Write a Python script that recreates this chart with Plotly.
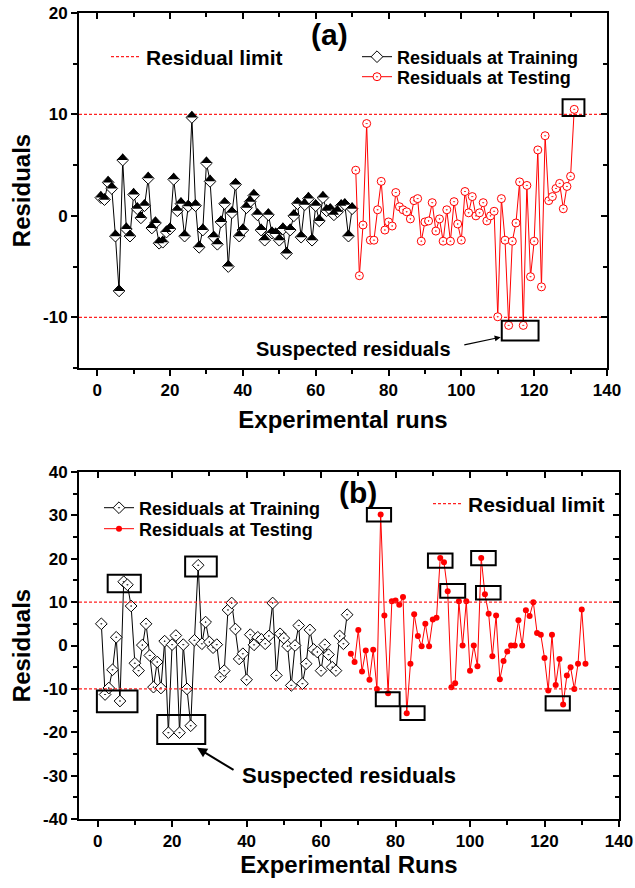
import plotly.graph_objects as go

FONT = "Liberation Sans, Arial, sans-serif"
NARROW = "Liberation Sans Narrow, Liberation Sans, Arial, sans-serif"

# ---------------- data ----------------
RUNS_A_TRAIN = list(range(1, 71))
RES_A_TRAIN = [1.8, 1.6, 3.3, 2.7, -2.0, -7.4, 5.5, -1.3, -2.0, 2.1,
               0.7, -0.2, 1.0, 3.7, -1.2, -0.7, -2.7, -2.6, -1.6, -1.3,
               3.6, 0.5, 1.2, -2.0, 0.95, 9.7, 1.0, -3.1, -1.4, 5.2,
               3.4, -2.1, -2.8, -0.6, 1.2, -5.0, 0.3, 3.1, -2.0, -1.4,
               0.8, 1.4, 2.0, 0.1, -1.4, -2.4, 0.1, -1.7, -1.8, -2.4,
               -1.3, -3.7, -1.4, 0.0, 1.2, -2.1, 1.1, 1.7, -2.4, 1.0,
               -0.5, 1.8, 0.5, 0.6, 0.1, 0.4, 1.0, 1.1, -2.0, 0.7]

RUNS_A_TEST = list(range(71, 132))
RES_A_TEST = [4.5, -5.9, -0.9, 9.1, -2.4, -2.4, 0.6, 3.4, -1.4, -0.6,
              -1.0, 2.3, 0.9, 0.6, 0.4, -0.3, 1.5, 1.7, -2.5, -0.6,
              -0.5, 1.3, -1.5, -0.3, -2.5, 0.6, -2.5, 1.4, -0.8, -2.4,
              2.4, 0.3, 1.9, 0.0, 0.3, 1.3, -0.5, 0.0, 0.45, -9.95,
              1.7, -2.4, -10.8, -2.5, -0.7, 3.35, -10.8, 3.0, -6.0, -2.5,
              6.5, -7.0, 7.9, 1.5, 1.9, 2.7, 3.2, 0.7, 2.9, 3.9,
              10.5]

RUNS_B_TRAIN = list(range(1, 68))
RES_B_TRAIN = [5.0, -11.3, -9.8, -5.6, 1.9, -12.8, 14.7, 14.0, 9.1, -4.1,
               -5.8, 0.1, 5.0, -2.3, -9.6, -3.8, -9.8, 1.0, -20.1, 0.2,
               2.3, -20.1, 0.2, -10.0, -18.5, 1.2, 18.5, 0.4, 5.4, 0.8,
               -0.5, 0.2, -7.2, -5.8, 8.2, 9.8, 3.8, -3.1, -1.9, -7.9,
               2.5, 0.15, 1.9, 1.4, 0.4, 2.2, 9.8, -6.9, 2.7, 1.7,
               -0.15, -9.2, 0.0, 4.6, -8.8, -4.2, 3.6, -0.9, -1.5, -5.8,
               0.2, -2.1, -5.0, -5.8, 2.2, 0.4, 7.1]

RUNS_B_TEST = list(range(68, 132))
RES_B_TEST = [-1.9, -3.8, 3.6, -6.0, -1.15, -7.9, -1.0, -10.0, 30.2, 6.9,
              -11.0, 10.2, 10.4, 9.4, 11.2, -15.6, -4.2, 7.2, 2.2, -0.15,
              5.0, -0.15, 6.0, 6.4, 20.2, 19.2, 12.5, -9.6, -8.7, 10.2,
              0.0, 10.2, -5.8, 0.0, -4.8, 20.2, 11.8, 7.3, -2.5, 6.9,
              -7.8, -3.6, -1.4, 0.0, 0.0, 5.8, 0.0, 8.1, 6.8, 10.0,
              2.9, 2.5, -2.9, -10.4, 2.5, -9.1, -3.1, -13.6, -6.9, -5.0,
              -10.0, -4.2, 8.3, -4.2]

LIMIT = 10
X_RANGE = [-5, 140]
A_Y_RANGE = [-15, 20]
B_Y_RANGE = [-40, 40]
X_TICKS = [0, 20, 40, 60, 80, 100, 120, 140]
X_MINOR = [10, 30, 50, 70, 90, 110, 130]
A_Y_TICKS = [-10, 0, 10, 20]
A_Y_MINOR = [-15, -5, 5, 15]
B_Y_TICKS = [-40, -30, -20, -10, 0, 10, 20, 30, 40]
B_Y_MINOR = [-35, -25, -15, -5, 5, 15, 25, 35]

# suspected-residual boxes: (x0, x1, y0, y1)
A_BOXES = [(127.8, 133.8, 9.85, 11.5), (111.1, 121.2, -12.3, -10.35)]
B_BOXES = [(2.7, 11.6, 12.3, 16.3), (23.5, 32.0, 15.9, 20.5),
           (-0.2, 10.7, -15.4, -10.4), (16.0, 28.9, -22.7, -16.0),
           (72.3, 78.8, 28.6, 31.7), (88.7, 95.3, 17.9, 21.2),
           (92.0, 98.7, 11.0, 14.2), (100.3, 106.9, 18.5, 21.8),
           (101.6, 108.2, 10.6, 13.7), (74.7, 81.1, -14.0, -10.8),
           (81.3, 87.8, -17.2, -14.0), (120.3, 126.8, -15.0, -11.7)]

# ---------------- figure ----------------
W, H = 635, 888
ML, MR, MT, MB = 79, 16, 13, 69
PW, PH = W - ML - MR, H - MT - MB


def px_x(p):
    return (p - ML) / PW


def px_y(p):
    return (H - MB - p) / PH


fig = go.Figure()

limit_x = [X_RANGE[0], X_RANGE[1], None, X_RANGE[0], X_RANGE[1]]
limit_y = [LIMIT, LIMIT, None, -LIMIT, -LIMIT]
dash_line = dict(color="#ff2020", width=1.2, dash="3px,2px")

# ----- panel (a)
fig.add_trace(go.Scatter(x=limit_x, y=limit_y, mode="lines", line=dash_line,
                         name="Residual limit", legend="legend",
                         xaxis="x", yaxis="y", hoverinfo="skip"))
fig.add_trace(go.Scatter(x=RUNS_A_TRAIN, y=RES_A_TRAIN, mode="lines+markers",
                         name="Residuals at Training", legend="legend2",
                         line=dict(color="black", width=1),
                         marker=dict(symbol="diamond", size=9, color="white",
                                     line=dict(color="black", width=1)),
                         xaxis="x", yaxis="y"))
# black upper half of the training diamonds
fig.add_trace(go.Scatter(x=RUNS_A_TRAIN, y=RES_A_TRAIN, mode="markers",
                         showlegend=False, hoverinfo="skip",
                         marker=dict(symbol="triangle-down", size=9, angle=180,
                                     standoff=2.25, color="black",
                                     line=dict(width=0)),
                         xaxis="x", yaxis="y"))
fig.add_trace(go.Scatter(x=RUNS_A_TEST, y=RES_A_TEST, mode="lines+markers",
                         name="Residuals at Testing", legend="legend3",
                         line=dict(color="#ff0000", width=1),
                         marker=dict(symbol="circle-dot", size=8, color="white",
                                     line=dict(color="#ff0000", width=1)),
                         xaxis="x", yaxis="y"))

# ----- panel (b)
fig.add_trace(go.Scatter(x=RUNS_B_TRAIN, y=RES_B_TRAIN, mode="lines+markers",
                         name="Residuals at Training", legend="legend4",
                         line=dict(color="black", width=1),
                         marker=dict(symbol="diamond-dot", size=9, color="white",
                                     line=dict(color="black", width=1)),
                         xaxis="x2", yaxis="y2"))
fig.add_trace(go.Scatter(x=RUNS_B_TEST, y=RES_B_TEST, mode="lines+markers",
                         name="Residuals at Testing", legend="legend5",
                         line=dict(color="#ff0000", width=1),
                         marker=dict(symbol="circle", size=6, color="#ff0000"),
                         xaxis="x2", yaxis="y2"))
fig.add_trace(go.Scatter(x=limit_x, y=limit_y, mode="lines", line=dash_line,
                         name="Residual limit", legend="legend6",
                         xaxis="x2", yaxis="y2", hoverinfo="skip"))

# dummy traces for the mirrored (inside) top/right tick axes
fig.add_trace(go.Scatter(x=[None], y=[None], xaxis="x3", yaxis="y3",
                         showlegend=False, hoverinfo="skip"))
fig.add_trace(go.Scatter(x=[None], y=[None], xaxis="x4", yaxis="y4",
                         showlegend=False, hoverinfo="skip"))

tick_font = dict(family=NARROW, size=17, color="black", weight="bold")
title_font = dict(family=FONT, size=24, color="black", weight="bold")


def main_axis(rng, tv, minor, domain, anchor, title=None, standoff=None):
    d = dict(range=rng, domain=domain, anchor=anchor, showline=True,
             linecolor="black", linewidth=2, mirror=True, ticks="outside",
             ticklen=6, tickwidth=1.5, tickcolor="black", tickvals=tv,
             ticktext=[str(v) for v in tv], tickfont=tick_font,
             ticklabeloverflow="allow",
             showgrid=False, zeroline=False,
             minor=dict(tickvals=minor, ticks="outside", ticklen=4,
                        tickwidth=1.5, tickcolor="black", showgrid=False))
    if title:
        d["title"] = dict(text=title, font=title_font, standoff=standoff)
    return d


def mirror_axis(rng, tv, minor, overlay, side, anchor):
    return dict(range=rng, overlaying=overlay, side=side, anchor=anchor,
                showline=False, ticks="inside", ticklen=6, tickwidth=1.5,
                tickcolor="black", tickvals=tv, showticklabels=False,
                showgrid=False, zeroline=False,
                minor=dict(tickvals=minor, ticks="inside", ticklen=4,
                           tickwidth=1.5, tickcolor="black", showgrid=False))


A_XDOM = [0, (607 - ML) / PW]
A_YDOM = [px_y(368), 1]
B_XDOM = [0, 1]
B_YDOM = [0, px_y(472)]

leg_font_small = dict(family=FONT, size=18, color="black", weight="bold")
leg_font_big = dict(family=FONT, size=21, color="black", weight="bold")


def leg(x_px, y_px, font):
    return dict(x=px_x(x_px), y=px_y(y_px), xanchor="left", yanchor="middle",
                bgcolor="rgba(0,0,0,0)", borderwidth=0, font=font,
                itemclick=False, itemdoubleclick=False)


annotations = [
    dict(x=63.9, y=17.9, xref="x", yref="y", text="(a)", showarrow=False,
         font=dict(family=FONT, size=30, color="black", weight="bold")),
    dict(x=70.0, y=35.3, xref="x2", yref="y2", text="(b)", showarrow=False,
         font=dict(family=FONT, size=30, color="black", weight="bold")),
    dict(x=70.3, y=-13.15, xref="x", yref="y", text="Suspected residuals",
         showarrow=False,
         font=dict(family=FONT, size=20, color="black", weight="bold")),
    dict(x=110.8, y=-11.96, xref="x", yref="y", ax=100.4, ay=-12.75,
         axref="x", ayref="y", text="", showarrow=True, arrowhead=2,
         arrowsize=1, arrowwidth=1.2, arrowcolor="black"),
    dict(x=67.5, y=-30.0, xref="x2", yref="y2", text="Suspected residuals",
         showarrow=False,
         font=dict(family=FONT, size=22, color="black", weight="bold")),
    dict(x=26.7, y=-23.6, xref="x2", yref="y2", ax=36.9, ay=-28.9,
         axref="x2", ayref="y2", text="", showarrow=True, arrowhead=2,
         arrowsize=1, arrowwidth=2, arrowcolor="black"),
]

shapes = []
for (x0, x1, y0, y1) in A_BOXES:
    shapes.append(dict(type="rect", xref="x", yref="y", x0=x0, x1=x1, y0=y0,
                       y1=y1, line=dict(color="black", width=2)))
for (x0, x1, y0, y1) in B_BOXES:
    shapes.append(dict(type="rect", xref="x2", yref="y2", x0=x0, x1=x1,
                       y0=y0, y1=y1, line=dict(color="black", width=2)))

fig.update_layout(
    width=W, height=H,
    margin=dict(l=ML, r=MR, t=MT, b=MB, autoexpand=False),
    paper_bgcolor="white", plot_bgcolor="white",
    font=dict(family=FONT, color="black"),
    xaxis=main_axis(X_RANGE, X_TICKS, X_MINOR, A_XDOM, "y",
                    "Experimental runs", 12),
    yaxis=main_axis(A_Y_RANGE, A_Y_TICKS, A_Y_MINOR, A_YDOM, "x",
                    "Residuals", 6),
    xaxis2=main_axis(X_RANGE, X_TICKS, X_MINOR, B_XDOM, "y2",
                     "Experimental Runs", 1),
    yaxis2=main_axis(B_Y_RANGE, B_Y_TICKS, B_Y_MINOR, B_YDOM, "x2",
                     "Residuals", 6),
    xaxis3=mirror_axis(X_RANGE, X_TICKS, X_MINOR, "x", "top", "y"),
    yaxis3=mirror_axis(A_Y_RANGE, A_Y_TICKS, A_Y_MINOR, "y", "right", "x"),
    xaxis4=mirror_axis(X_RANGE, X_TICKS, X_MINOR, "x2", "top", "y2"),
    yaxis4=mirror_axis(B_Y_RANGE, B_Y_TICKS, B_Y_MINOR, "y2", "right", "x2"),
    legend=leg(106, 57, leg_font_big),
    legend2=leg(357, 57, leg_font_small),
    legend3=leg(357, 77, leg_font_small),
    legend4=leg(99, 508, leg_font_small),
    legend5=leg(99, 529, leg_font_small),
    legend6=leg(428, 504, leg_font_big),
    annotations=annotations,
    shapes=shapes,
)

fig.write_html("out.html")
